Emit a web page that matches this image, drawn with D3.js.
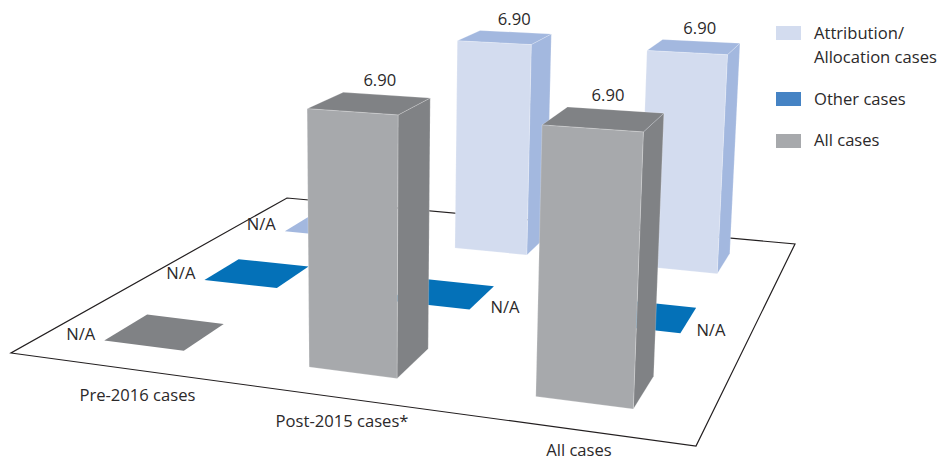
<!DOCTYPE html>
<html>
<head>
<meta charset="utf-8">
<script src="https://cdn.jsdelivr.net/npm/d3@7"></script>
<style>
  html, body { margin: 0; padding: 0; background: #fff; }
  svg { display: block; }
  text { font-family: "Open Sans", "Noto Sans", sans-serif; font-size: 16.6px; fill: #2b292a; }
</style>
</head>
<body>
<svg id="chart" width="941" height="461"></svg>
<script>
// Case groups along the floor, and the three series from front row to back row.
const categories = ["Pre-2016 cases", "Post-2015 cases*", "All cases"];
const seriesNames = ["All cases", "Other cases", "Attribution/Allocation cases"];

// One list per series, in category order; null means not applicable.
const allCasesValues = [null, 6.90, 6.90];
const otherCasesValues = [null, null, null];
const attributionValues = [null, 6.90, 6.90];
const seriesValues = [allCasesValues, otherCasesValues, attributionValues];

const legendLines = [
  ["Attribution/", "Allocation cases"],
  ["Other cases"],
  ["All cases"]
];
const legendOrder = [2, 1, 0];

const faceColours = [
  { front: "#a7a9ac", side: "#808285", top: "#808285", key: "#a7a9ac" },
  { front: "#0471b8", side: "#0471b8", top: "#0471b8", key: "#4583c4" },
  { front: "#d3dcef", side: "#a3b8df", top: "#a3b8df", key: "#d3dcef" }
];

// Camera: a projective map from floor (u, v, lift) to the page.
// Floor corners sit at u, v in 0..1; lift runs toward the vertical vanishing point.
const floorCorners = { frontLeft: [11, 353], frontRight: [696, 446], backRight: [795, 244], backLeft: [287, 198] };
const verticalVanish = [368, 7727];

function floorMatrix(c) {
  const [x0, y0] = c.frontLeft, [x1, y1] = c.frontRight, [x2, y2] = c.backRight, [x3, y3] = c.backLeft;
  const dx1 = x1 - x2, dx2 = x3 - x2, sx = x0 - x1 + x2 - x3;
  const dy1 = y1 - y2, dy2 = y3 - y2, sy = y0 - y1 + y2 - y3;
  const det = dx1 * dy2 - dx2 * dy1;
  const g = (sx * dy2 - dx2 * sy) / det;
  const h = (dx1 * sy - sx * dy1) / det;
  return [
    [x1 - x0 + g * x1, x3 - x0 + h * x3, x0],
    [y1 - y0 + g * y1, y3 - y0 + h * y3, y0],
    [g, h, 1]
  ];
}
const M = floorMatrix(floorCorners);

function project(u, v, t) {
  const lift = t || 0;
  const w = M[2][0] * u + M[2][1] * v + M[2][2] + lift;
  const x = M[0][0] * u + M[0][1] * v + M[0][2] + lift * verticalVanish[0];
  const y = M[1][0] * u + M[1][1] * v + M[1][2] + lift * verticalVanish[1];
  return [x / w, y / w];
}

// Scales: a band per category across the floor, a band per series into its depth,
// and the value mapped to the camera's lift.
const uScale = d3.scaleBand().domain(categories).range([0, 1]).paddingInner(0.6).paddingOuter(0.3);
const vScale = d3.scaleBand().domain(seriesNames).range([-0.003, 0.997]).paddingInner(0.6).paddingOuter(0.3);
const liftScale = d3.scaleLinear().domain([0, 6.90]).range([0, -0.033]);

// Category captions hang off the near edge of the floor.
const labelU = d3.scalePoint().domain(categories).range([0.2, 0.84]);
const labelDx = d3.scaleOrdinal().domain(categories).range([6, 2, 8]);
const labelDy = d3.scaleOrdinal().domain(categories).range([32, 29.5, 27]);

// Gap between a flat cell's near-right corner and its N/A label, by category.
const naGap = d3.scaleOrdinal().domain(categories).range([0, 21, 16]);

const svg = d3.select("#chart");
const line = d3.line();
const poly = pts => line(pts) + "Z";

// Floor outline
svg.append("path")
  .attr("d", poly([project(0, 0), project(1, 0), project(1, 1), project(0, 1)]))
  .attr("fill", "#fff")
  .attr("stroke", "#231f20")
  .attr("stroke-width", 1.2)
  .attr("stroke-linejoin", "miter");

// Cells listed back row first so nearer bars paint over farther ones.
const cells = [];
for (let s = seriesNames.length - 1; s >= 0; s--) {
  categories.forEach((cat, c) => cells.push({ s, c, cat, value: seriesValues[s][c] }));
}

const marks = svg.selectAll("g.cell").data(cells).join("g").attr("class", "cell");

marks.each(function (d) {
  const g = d3.select(this);
  const colours = faceColours[d.s];
  const u0 = uScale(d.cat), u1 = u0 + uScale.bandwidth();
  const v0 = vScale(seriesNames[d.s]), v1 = v0 + vScale.bandwidth();
  const t = liftScale(d.value === null ? 0 : d.value);

  const fl = project(u0, v0), fr = project(u1, v0), br = project(u1, v1), bl = project(u0, v1);
  const tfl = project(u0, v0, t), tfr = project(u1, v0, t), tbr = project(u1, v1, t), tbl = project(u0, v1, t);

  if (d.value === null) {
    // Not-applicable cells lie flat on the floor.
    g.append("path").attr("d", poly([fl, fr, br, bl])).attr("fill", colours.top);
    const pre = d.c === 0;
    g.append("text")
      .attr("x", pre ? fl[0] - 9 : fr[0] + naGap(d.cat))
      .attr("y", pre ? fl[1] - 1 : fr[1] + 3)
      .attr("text-anchor", pre ? "end" : "start")
      .text("N/A");
    return;
  }

  const edge = "rgba(255,255,255,0.35)";
  g.append("path").attr("d", poly([fr, br, tbr, tfr])).attr("fill", colours.side).attr("stroke", edge).attr("stroke-width", 0.6);
  g.append("path").attr("d", poly([tfl, tfr, tbr, tbl])).attr("fill", colours.top).attr("stroke", edge).attr("stroke-width", 0.6);
  g.append("path").attr("d", poly([fl, fr, tfr, tfl])).attr("fill", colours.front).attr("stroke", edge).attr("stroke-width", 0.6);

  // Value sits above the bar's back edge; the front row leans left of centre.
  const front = d.s === 0;
  const along = front ? 0.42 : 0.48;
  g.append("text")
    .attr("x", tbl[0] + along * (tbr[0] - tbl[0]))
    .attr("y", (tbl[1] + tbr[1]) / 2 - (front ? 9 : 7))
    .attr("text-anchor", "middle")
    .text(d3.format(".2f")(d.value));
});

svg.selectAll("text.category").data(categories).join("text")
  .attr("class", "category")
  .attr("text-anchor", "middle")
  .attr("x", d => project(labelU(d), 0)[0] + labelDx(d))
  .attr("y", d => project(labelU(d), 0)[1] + labelDy(d))
  .text(d => d);

// Legend
const legendY = d3.scaleOrdinal().domain(legendOrder).range([26, 92, 134]);
const legendTextY = d3.scaleOrdinal().domain(legendOrder).range([39, 105, 146]);
const legend = svg.selectAll("g.legend").data(legendOrder).join("g").attr("class", "legend");
legend.append("rect")
  .attr("x", 776)
  .attr("y", d => legendY(d))
  .attr("width", 25)
  .attr("height", 14)
  .attr("fill", d => faceColours[d].key);
legend.each(function (d, i) {
  d3.select(this).selectAll("text").data(legendLines[i]).join("text")
    .attr("x", 814)
    .attr("y", (_, k) => legendTextY(d) + k * 24)
    .text(t => t);
});
</script>
</body>
</html>
